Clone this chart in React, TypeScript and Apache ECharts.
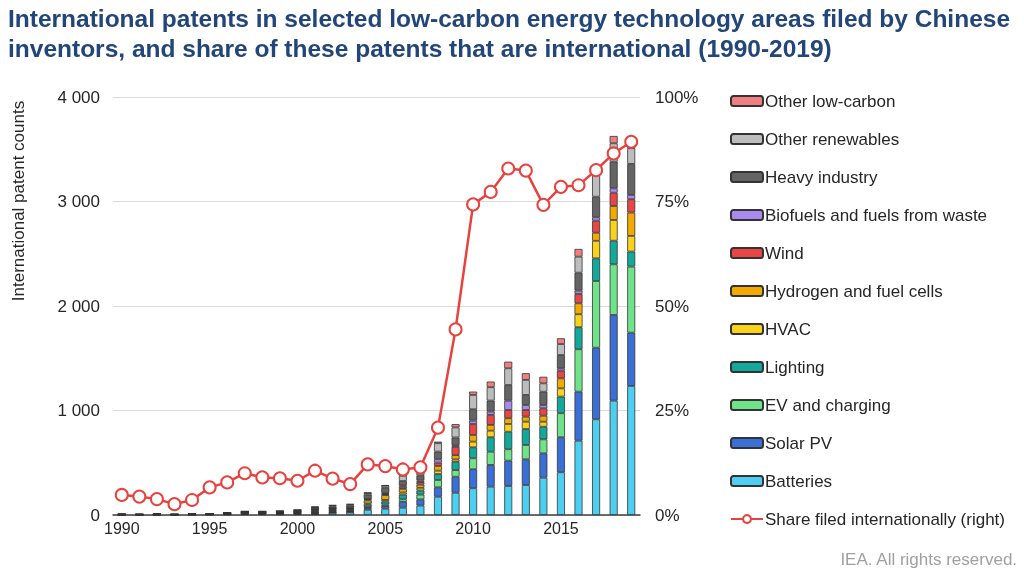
import React, { useEffect, useRef } from "react";
import * as echarts from "echarts";

const years = ["1990","1991","1992","1993","1994","1995","1996","1997","1998","1999","2000","2001","2002","2003","2004","2005","2006","2007","2008","2009","2010","2011","2012","2013","2014","2015","2016","2017","2018","2019"];

const batteries = [2,2,2,2,2,3,5,8,8,8,10,10,20,25,50,60,70,90,175,213,256,271,278,287,357,409,711,916,1094,1235];
const solarPV = [1,1,1,1,1,1,2,3,3,3,4,5,5,5,15,25,55,60,90,153,182,208,242,246,233,335,469,685,820,510];
const evCharging = [0,0,1,0,1,1,1,2,2,3,3,5,5,5,10,15,25,45,70,64,105,127,109,137,134,230,406,638,485,632];
const lighting = [1,1,1,1,1,1,3,4,4,4,6,10,10,10,25,30,45,40,57,79,105,138,168,153,121,159,211,217,226,144];
const hvac = [0,0,1,0,1,1,1,2,2,2,3,5,5,5,10,15,20,25,32,23,54,63,74,70,48,79,124,168,198,150];
const hydrogen = [1,1,1,1,1,1,2,4,4,4,5,10,10,10,30,45,35,30,45,41,64,55,55,48,57,96,105,77,134,223];
const wind = [0,0,0,0,0,1,1,2,2,2,3,5,5,5,10,10,20,25,32,79,105,96,79,64,71,73,89,115,127,128];
const biofuels = [0,0,0,0,0,0,1,1,1,1,2,5,5,5,5,10,15,15,33,16,32,32,89,48,32,23,32,33,42,41];
const heavyIndustry = [3,2,2,2,3,3,4,6,6,7,8,15,15,20,40,50,40,50,73,74,109,105,150,96,127,127,172,197,255,297];
const otherRenewables = [2,1,1,1,1,1,2,3,3,4,4,5,10,10,15,20,50,40,80,96,137,128,160,144,80,105,153,208,176,150];
const otherLowCarbon = [0,0,0,0,0,0,0,0,0,0,0,5,5,5,5,5,10,10,15,32,32,54,63,64,63,55,74,30,70,40];

const shareInternational = [4.8,4.4,3.8,2.6,3.6,6.6,7.8,10.0,9.0,8.8,8.2,10.6,8.7,7.4,12.1,11.7,10.9,11.4,20.9,44.4,74.3,77.3,82.9,82.4,74.2,78.5,78.9,82.5,86.5,89.3];

const leftTicks = [0, 1000, 2000, 3000, 4000];

const barSeriesDefs = [
  { name: "Batteries", data: batteries, color: "#4DCFF2" },
  { name: "Solar PV", data: solarPV, color: "#3A6FD6" },
  { name: "EV and charging", data: evCharging, color: "#6EE38A" },
  { name: "Lighting", data: lighting, color: "#12A89A" },
  { name: "HVAC", data: hvac, color: "#F9D21C" },
  { name: "Hydrogen and fuel cells", data: hydrogen, color: "#F2A900" },
  { name: "Wind", data: wind, color: "#E84545" },
  { name: "Biofuels and fuels from waste", data: biofuels, color: "#A98BF0" },
  { name: "Heavy industry", data: heavyIndustry, color: "#646464" },
  { name: "Other renewables", data: otherRenewables, color: "#BDBDBD" },
  { name: "Other low-carbon", data: otherLowCarbon, color: "#F08080" },
];

const shareName = "Share filed internationally (right)";
const FONT = "'Liberation Sans', Arial, sans-serif";

function fmtThousands(v: number) {
  return String(v).replace(/\B(?=(\d{3})+(?!\d))/g, " ");
}

export default function App() {
  const ref = useRef<HTMLDivElement>(null);
  useEffect(() => {
    if (!ref.current) return;
    const chart = echarts.init(ref.current, null, { renderer: "svg" });
    const series: any[] = barSeriesDefs.map((s) => ({
      name: s.name,
      type: "bar",
      stack: "patents",
      data: s.data,
      barWidth: 8,
      itemStyle: { color: s.color, borderColor: "#333333", borderWidth: 0.8 },
      emphasis: { disabled: true },
    }));
    series.push({
      name: shareName,
      type: "line",
      yAxisIndex: 1,
      data: shareInternational,
      symbol: "emptyCircle",
      symbolSize: 12,
      showAllSymbol: true,
      z: 5,
      lineStyle: { color: "#E8423F", width: 2.5 },
      itemStyle: { color: "#E8423F", borderColor: "#E8423F", borderWidth: 2.5 },
      emphasis: { disabled: true },
    });
    chart.setOption({
      animation: false,
      textStyle: { fontFamily: FONT },
      title: {
        text: "International patents in selected low-carbon energy technology areas filed by Chinese\ninventors, and share of these patents that are international (1990-2019)",
        left: 3,
        top: -2,
        textStyle: { fontFamily: FONT, fontSize: 24.5, fontWeight: "bold", color: "#22457A", lineHeight: 30 },
      },
      grid: { left: 113, right: 384, top: 97, bottom: 61, containLabel: false },
      legend: {
        orient: "vertical",
        left: 725,
        top: 86,
        itemWidth: 32,
        itemHeight: 10,
        itemGap: 18,
        data: [
          "Other low-carbon",
          "Other renewables",
          "Heavy industry",
          "Biofuels and fuels from waste",
          "Wind",
          "Hydrogen and fuel cells",
          "HVAC",
          "Lighting",
          "EV and charging",
          "Solar PV",
          "Batteries",
          shareName,
        ],
        textStyle: { fontFamily: FONT, fontSize: 17, color: "#262626", lineHeight: 20, padding: [0, 0, 0, -3] },
        selectedMode: false,
      },
      xAxis: {
        type: "category",
        data: years,
        boundaryGap: true,
        axisLine: { lineStyle: { color: "#404040", width: 1.5 } },
        axisTick: { show: false },
        axisLabel: { interval: 4, color: "#262626", fontSize: 16, fontFamily: FONT, margin: 5 },
      },
      yAxis: [
        {
          type: "value",
          min: 0,
          max: 4000,
          interval: 1000,
          axisLine: { show: false },
          axisTick: { show: false },
          splitLine: { lineStyle: { color: "#DADADA", width: 1 } },
          axisLabel: {
            color: "#262626",
            fontSize: 17,
            fontFamily: FONT,
            margin: 13,
            formatter: (v: number) => (leftTicks.indexOf(v) >= 0 ? fmtThousands(v) : ""),
          },
        },
        {
          type: "value",
          min: 0,
          max: 100,
          interval: 25,
          position: "right",
          axisLine: { show: false },
          axisTick: { show: false },
          splitLine: { show: false },
          axisLabel: { color: "#262626", fontSize: 17, fontFamily: FONT, margin: 15, formatter: "{value}%" },
        },
      ],
      graphic: [
        {
          type: "text",
          x: 18,
          y: 201,
          rotation: Math.PI / 2,
          style: {
            text: "International patent counts",
            fontFamily: FONT,
            fontSize: 17,
            fill: "#262626",
            align: "center",
            verticalAlign: "middle",
          },
        },
        {
          type: "text",
          right: 6,
          top: 551,
          style: {
            text: "IEA. All rights reserved.",
            fontFamily: FONT,
            fontSize: 17,
            fill: "#A0A0A0",
          },
        },
      ],
      series,
    });
    return () => chart.dispose();
  }, []);
  return <div ref={ref} style={{ position: "fixed", left: 0, top: 0, width: 1024, height: 576 }} />;
}
